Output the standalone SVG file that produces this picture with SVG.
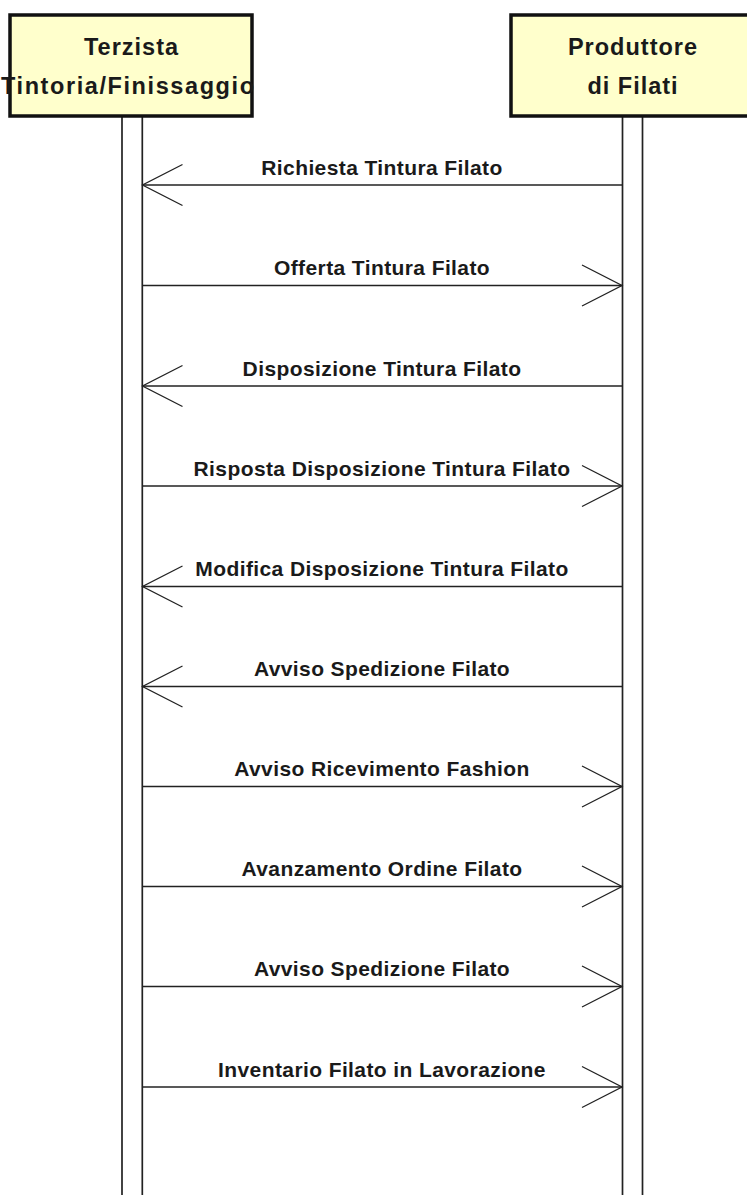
<svg xmlns="http://www.w3.org/2000/svg" width="747" height="1195" viewBox="0 0 747 1195">
<style>
.box{fill:#FFFFCC;stroke:#111;stroke-width:3.5}
.life{stroke:#222;stroke-width:1.7;fill:none}
.hdr{font-family:"Liberation Sans",Arial,sans-serif;font-weight:bold;font-size:23.5px;letter-spacing:1px;fill:#1a1a1a;text-anchor:middle}
.msg{stroke:#222;stroke-width:1.7;fill:none;marker-end:url(#open)}
.lbl{font-family:"Liberation Sans",Arial,sans-serif;font-weight:bold;font-size:21px;letter-spacing:0.4px;fill:#1a1a1a;text-anchor:middle}
</style>
<defs>
<marker id="open" markerUnits="userSpaceOnUse" viewBox="-45 -25 50 50" markerWidth="50" markerHeight="50" refX="0" refY="0" orient="auto" overflow="visible">
<path d="M-40,-20.5 L0,0 L-40,20.5" fill="none" stroke="#222" stroke-width="1.3"/>
</marker>
</defs>
<rect width="747" height="1195" fill="#fff"/>
<g id="terzista">
<line class="life" x1="122" y1="116" x2="122" y2="1195"/>
<line class="life" x1="142.3" y1="116" x2="142.3" y2="1195"/>
<rect class="box" x="10" y="15" width="242" height="101"/>
<text class="hdr" x="131.5" y="55">Terzista</text>
<text class="hdr" x="128" y="94" textLength="254" lengthAdjust="spacing">Tintoria/Finissaggio</text>
</g>
<g id="produttore">
<line class="life" x1="622.5" y1="116" x2="622.5" y2="1195"/>
<line class="life" x1="642.5" y1="116" x2="642.5" y2="1195"/>
<rect class="box" x="511" y="15" width="244" height="101"/>
<text class="hdr" x="633" y="55">Produttore</text>
<text class="hdr" x="633" y="94">di Filati</text>
</g>
<g id="connectors">
<line class="msg" x1="622.5" y1="185" x2="142.5" y2="185"/>
<text class="lbl" x="382" y="175">Richiesta Tintura Filato</text>
<line class="msg" x1="142.3" y1="285.5" x2="622" y2="285.5"/>
<text class="lbl" x="382" y="275">Offerta Tintura Filato</text>
<line class="msg" x1="622.5" y1="386" x2="142.5" y2="386"/>
<text class="lbl" x="382" y="375.5">Disposizione Tintura Filato</text>
<line class="msg" x1="142.3" y1="486" x2="622" y2="486"/>
<text class="lbl" x="382" y="475.5">Risposta Disposizione Tintura Filato</text>
<line class="msg" x1="622.5" y1="586.5" x2="142.5" y2="586.5"/>
<text class="lbl" x="382" y="576">Modifica Disposizione Tintura Filato</text>
<line class="msg" x1="622.5" y1="686.5" x2="142.5" y2="686.5"/>
<text class="lbl" x="382" y="676">Avviso Spedizione Filato</text>
<line class="msg" x1="142.3" y1="786.5" x2="622" y2="786.5"/>
<text class="lbl" x="382" y="776">Avviso Ricevimento Fashion</text>
<line class="msg" x1="142.3" y1="886.5" x2="622" y2="886.5"/>
<text class="lbl" x="382" y="876">Avanzamento Ordine Filato</text>
<line class="msg" x1="142.3" y1="986.5" x2="622" y2="986.5"/>
<text class="lbl" x="382" y="976">Avviso Spedizione Filato</text>
<line class="msg" x1="142.3" y1="1087" x2="622" y2="1087"/>
<text class="lbl" x="382" y="1076.5">Inventario Filato in Lavorazione</text>
</g>
</svg>
